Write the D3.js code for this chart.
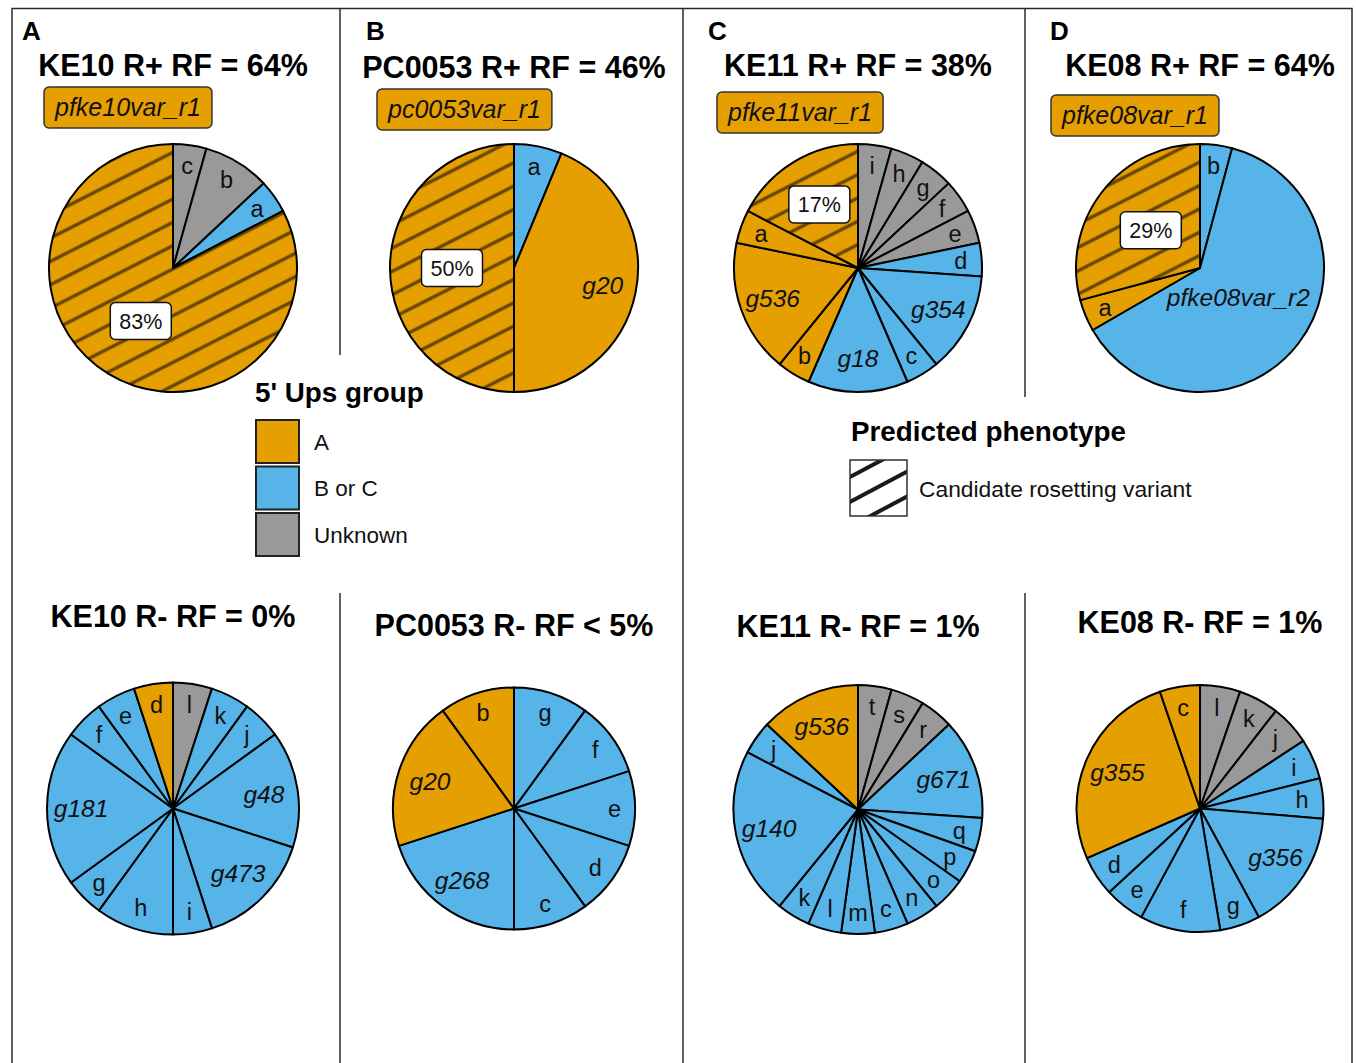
<!DOCTYPE html>
<html>
<head>
<meta charset="utf-8">
<script src="https://cdn.jsdelivr.net/npm/d3@7"></script>
<style>
  body { margin: 0; background: #fff; }
  svg { display: block; }
</style>
</head>
<body>
<svg id="fig" width="1356" height="1063"></svg>
<script>
// ---- 5' Ups groups ----
const groupNames = ["A", "B or C", "Unknown"];
const groupColors = ["#E69F00", "#56B4E9", "#999999"];

// ---- panel headings ----
const panelLetters = ["A", "B", "C", "D"];
const topTitles = ["KE10 R+ RF = 64%", "PC0053 R+ RF = 46%", "KE11 R+ RF = 38%", "KE08 R+ RF = 64%"];
const bottomTitles = ["KE10 R- RF = 0%", "PC0053 R- RF < 5%", "KE11 R- RF = 1%", "KE08 R- RF = 1%"];
const topVariants = ["pfke10var_r1", "pc0053var_r1", "pfke11var_r1", "pfke08var_r1"];

// ---- rosetting-positive (R+) variant transcript counts, clockwise from 12 o'clock ----
const ke10PlusLabels = ["c", "b", "a", "pfke10var_r1"];
const ke10PlusCounts = [1, 2, 1, 19];
const ke10PlusGroups = ["Unknown", "Unknown", "B or C", "A"];

const pc0053PlusLabels = ["a", "g20", "pc0053var_r1"];
const pc0053PlusCounts = [1, 7, 8];
const pc0053PlusGroups = ["B or C", "A", "A"];

const ke11PlusLabels = ["i", "h", "g", "f", "e", "d", "g354", "c", "g18", "b", "g536", "a", "pfke11var_r1"];
const ke11PlusCounts = [1, 1, 1, 1, 1, 1, 3, 1, 3, 1, 4, 1, 4];
const ke11PlusGroups = ["Unknown", "Unknown", "Unknown", "Unknown", "Unknown", "B or C", "B or C", "B or C", "B or C", "A", "A", "A", "A"];

const ke08PlusLabels = ["b", "pfke08var_r2", "a", "pfke08var_r1"];
const ke08PlusCounts = [1, 15, 1, 7];
const ke08PlusGroups = ["B or C", "B or C", "A", "A"];

// ---- rosetting-negative (R-) variant transcript counts ----
const ke10MinusLabels = ["l", "k", "j", "g48", "g473", "i", "h", "g", "g181", "f", "e", "d"];
const ke10MinusCounts = [1, 1, 1, 3, 3, 1, 2, 1, 4, 1, 1, 1];
const ke10MinusGroups = ["Unknown", "B or C", "B or C", "B or C", "B or C", "B or C", "B or C", "B or C", "B or C", "B or C", "B or C", "A"];

const pc0053MinusLabels = ["g", "f", "e", "d", "c", "g268", "g20", "b"];
const pc0053MinusCounts = [1, 1, 1, 1, 1, 2, 2, 1];
const pc0053MinusGroups = ["B or C", "B or C", "B or C", "B or C", "B or C", "B or C", "A", "A"];

const ke11MinusLabels = ["t", "s", "r", "g671", "q", "p", "o", "n", "c", "m", "l", "k", "g140", "j", "g536"];
const ke11MinusCounts = [1, 1, 1, 3, 1, 1, 1, 1, 1, 1, 1, 1, 5, 1, 3];
const ke11MinusGroups = ["Unknown", "Unknown", "Unknown", "B or C", "B or C", "B or C", "B or C", "B or C", "B or C", "B or C", "B or C", "B or C", "B or C", "B or C", "A"];

const ke08MinusLabels = ["l", "k", "j", "i", "h", "g356", "g", "f", "e", "d", "g355", "c"];
const ke08MinusCounts = [1, 1, 1, 1, 1, 3, 1, 2, 1, 1, 5, 1];
const ke08MinusGroups = ["Unknown", "Unknown", "Unknown", "B or C", "B or C", "B or C", "B or C", "B or C", "B or C", "B or C", "A", "A"];

// ---- layout ----
const FONT = "'Liberation Sans', Arial, Helvetica, sans-serif";
const colX = [173, 514, 858, 1200];
const topCY = 268, topR = 124;
const bottomCY = [808.5, 808.5, 809.5, 808.5];
const bottomR = [126, 121, 124.5, 123.5];
const topTitleY = [76, 78, 76, 76];
const bottomTitleY = [627, 636, 637, 633];
const letterX = [22, 366, 708, 1050];
const variantBoxX = [44, 377, 717, 1051];
const variantBoxY = [87, 89, 92, 95];

const svg = d3.select("#fig");
const defs = svg.append("defs");
const color = d3.scaleOrdinal().domain(groupNames).range(groupColors);

// ---- frame and panel dividers ----
const frame = svg.append("g").attr("stroke", "#2b2b2b").attr("stroke-width", 1.5).attr("fill", "none");
frame.append("path").attr("d", "M12,1063 V8.5 H1352 V1063");
frame.append("line").attr("x1", 340).attr("x2", 340).attr("y1", 8).attr("y2", 355);
frame.append("line").attr("x1", 340).attr("x2", 340).attr("y1", 593).attr("y2", 1063);
frame.append("line").attr("x1", 683).attr("x2", 683).attr("y1", 8).attr("y2", 1063);
frame.append("line").attr("x1", 1025).attr("x2", 1025).attr("y1", 8).attr("y2", 397);
frame.append("line").attr("x1", 1025).attr("x2", 1025).attr("y1", 593).attr("y2", 1063);

// diagonal hatch for candidate rosetting variants
function makeHatch(id, cx, cy, bg, fg, gap, width, angle) {
  const p = defs.append("pattern").attr("id", id)
    .attr("patternUnits", "userSpaceOnUse")
    .attr("width", 40).attr("height", gap)
    .attr("patternTransform", `translate(${cx},${cy}) rotate(${-angle}) translate(0,${-gap / 2})`);
  p.append("rect").attr("width", 40).attr("height", gap).attr("fill", bg);
  p.append("line").attr("x1", 0).attr("x2", 40).attr("y1", gap / 2).attr("y2", gap / 2)
    .attr("stroke", fg).attr("stroke-width", width);
}

const pie = d3.pie().sort(null).value(d => d.count);

function drawPie(k, cx, cy, r, labels, counts, groups, variant) {
  const rows = labels.map((l, i) => ({ label: l, count: counts[i], group: groups[i] }));
  const arcs = pie(rows);
  const arc = d3.arc().innerRadius(0).outerRadius(r);
  const g = svg.append("g").attr("transform", `translate(${cx},${cy})`);
  if (variant) makeHatch("hatch" + k, cx, cy - 5, color("A"), "#6b4700", 20.8, 3.6, 27);

  g.selectAll("path").data(arcs).join("path")
    .attr("d", arc)
    .attr("fill", d => d.data.label === variant ? `url(#hatch${k})` : color(d.data.group))
    .attr("stroke", "#000").attr("stroke-width", 2).attr("stroke-linejoin", "round");

  const labelled = arcs.filter(d => d.data.label !== variant);
  g.selectAll("text.slice").data(labelled).join("text")
    .attr("class", "slice")
    .each(function (d) {
      const frac = (d.endAngle - d.startAngle) / (2 * Math.PI);
      const f = d.data.label.length === 1 ? 0.83 : (frac > 0.5 ? 0.39 : 0.73);
      const [x, y] = d3.arc().innerRadius(r * f).outerRadius(r * f).centroid(d);
      d3.select(this).attr("x", x).attr("y", y);
    })
    .attr("dy", "0.35em")
    .attr("text-anchor", "middle")
    .attr("font-family", FONT)
    .attr("font-size", d => d.data.label.length === 1 ? 23.5 : 24.5)
    .attr("font-style", d => d.data.label.length === 1 ? "normal" : "italic")
    .attr("fill", "#111")
    .text(d => d.data.label);

  // share of the candidate variant, in a white box
  const v = arcs.find(d => d.data.label === variant);
  if (v) {
    const frac = (v.endAngle - v.startAngle) / (2 * Math.PI);
    const f = frac >= 0.25 ? 0.5 : 0.6;
    const [x, y] = d3.arc().innerRadius(r * f).outerRadius(r * f).centroid(v);
    g.append("rect").attr("x", x - 30.5).attr("y", y - 18.5).attr("width", 61).attr("height", 37)
      .attr("rx", 5).attr("fill", "#fff").attr("stroke", "#111").attr("stroke-width", 1.5);
    g.append("text").attr("x", x).attr("y", y).attr("dy", "0.36em").attr("text-anchor", "middle")
      .attr("font-family", FONT).attr("font-size", 21.5).attr("fill", "#111")
      .text(Math.round(frac * 100) + "%");
  }
}

const plusSets = [
  [ke10PlusLabels, ke10PlusCounts, ke10PlusGroups],
  [pc0053PlusLabels, pc0053PlusCounts, pc0053PlusGroups],
  [ke11PlusLabels, ke11PlusCounts, ke11PlusGroups],
  [ke08PlusLabels, ke08PlusCounts, ke08PlusGroups]
];
const minusSets = [
  [ke10MinusLabels, ke10MinusCounts, ke10MinusGroups],
  [pc0053MinusLabels, pc0053MinusCounts, pc0053MinusGroups],
  [ke11MinusLabels, ke11MinusCounts, ke11MinusGroups],
  [ke08MinusLabels, ke08MinusCounts, ke08MinusGroups]
];

plusSets.forEach((s, i) => drawPie("p" + i, colX[i], topCY, topR, s[0], s[1], s[2], topVariants[i]));
minusSets.forEach((s, i) => drawPie("m" + i, colX[i], bottomCY[i], bottomR[i], s[0], s[1], s[2], null));

// ---- headings ----
panelLetters.forEach((L, i) => {
  svg.append("text").attr("x", letterX[i]).attr("y", 40)
    .attr("font-family", FONT).attr("font-weight", "bold").attr("font-size", 26).attr("fill", "#000")
    .text(L);
});
topTitles.forEach((t, i) => {
  svg.append("text").attr("x", colX[i]).attr("y", topTitleY[i]).attr("text-anchor", "middle")
    .attr("font-family", FONT).attr("font-weight", "bold").attr("font-size", 30.5).attr("fill", "#000")
    .text(t);
});
bottomTitles.forEach((t, i) => {
  svg.append("text").attr("x", colX[i]).attr("y", bottomTitleY[i]).attr("text-anchor", "middle")
    .attr("font-family", FONT).attr("font-weight", "bold").attr("font-size", 30.5).attr("fill", "#000")
    .text(t);
});

// candidate variant name tags
topVariants.forEach((name, i) => {
  const g = svg.append("g");
  const rect = g.append("rect");
  const txt = g.append("text").attr("x", variantBoxX[i] + 11).attr("y", variantBoxY[i] + 20.5).attr("dy", "0.35em")
    .attr("font-family", FONT).attr("font-style", "italic").attr("font-size", 25).attr("fill", "#111")
    .text(name);
  const w = txt.node().getComputedTextLength();
  rect.attr("x", variantBoxX[i]).attr("y", variantBoxY[i]).attr("width", w + 22).attr("height", 41)
    .attr("rx", 5).attr("fill", color("A")).attr("stroke", "#333").attr("stroke-width", 1.5);
});

// ---- legend: 5' Ups group ----
const leg = svg.append("g");
leg.append("text").attr("x", 255).attr("y", 402)
  .attr("font-family", FONT).attr("font-weight", "bold").attr("font-size", 27.8).attr("fill", "#000")
  .text("5' Ups group");
groupNames.forEach((nm, i) => {
  leg.append("rect").attr("x", 256).attr("y", 420 + i * 46.5).attr("width", 43).attr("height", 43)
    .attr("fill", color(nm)).attr("stroke", "#222").attr("stroke-width", 2);
  leg.append("text").attr("x", 314).attr("y", 441.5 + i * 46.5).attr("dy", "0.36em")
    .attr("font-family", FONT).attr("font-size", 22.5).attr("fill", "#111")
    .text(nm);
});

// ---- legend: predicted phenotype ----
makeHatch("hatchLegend", 850, 477, "#fff", "#1a1a1a", 22, 3.8, 28);
const leg2 = svg.append("g");
leg2.append("text").attr("x", 851).attr("y", 441)
  .attr("font-family", FONT).attr("font-weight", "bold").attr("font-size", 27.8).attr("fill", "#000")
  .text("Predicted phenotype");
leg2.append("rect").attr("x", 850).attr("y", 460).attr("width", 57).attr("height", 56)
  .attr("fill", "url(#hatchLegend)").attr("stroke", "#333").attr("stroke-width", 1.5);
leg2.append("text").attr("x", 919).attr("y", 489).attr("dy", "0.36em")
  .attr("font-family", FONT).attr("font-size", 22.8).attr("fill", "#111")
  .text("Candidate rosetting variant");
</script>
</body>
</html>
